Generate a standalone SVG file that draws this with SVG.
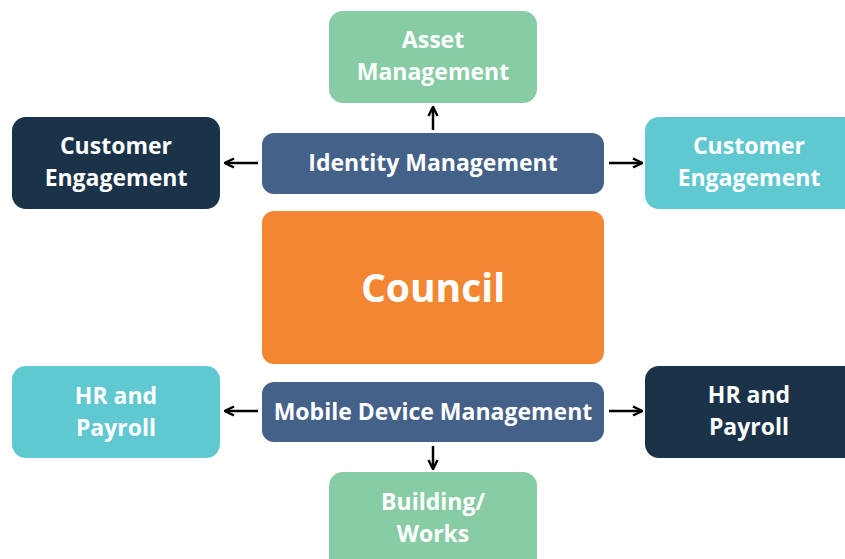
<svg xmlns="http://www.w3.org/2000/svg" width="845" height="559" viewBox="0 0 845 559">
<defs>
<marker id="ah" viewBox="0 0 10 10" refX="9" refY="5" markerWidth="4.5" markerHeight="4.5" orient="auto" markerUnits="strokeWidth"><path d="M1,1 L9,5 L1,9" fill="none" stroke="#000" stroke-width="2.2"/></marker>
</defs>
<style>
text{font-family:"Open Sans","Noto Sans",sans-serif;font-weight:bold;fill:#fff;text-anchor:middle}
.l{font-size:23px}
.c{font-size:39px}
.cn{stroke:#000;stroke-width:2.5;fill:none;marker-end:url(#ah)}
</style>
<rect width="845" height="559" fill="#fff"/>
<g id="asset"><rect x="329" y="11" width="208" height="92" rx="14" fill="#88CCA5"/><text class="l" x="433" y="48">Asset</text><text class="l" x="433" y="80">Management</text></g>
<g id="ce-left"><rect x="12" y="117" width="208" height="92" rx="14" fill="#1B3349"/><text class="l" x="116" y="154">Customer</text><text class="l" x="116" y="186">Engagement</text></g>
<g id="ce-right"><rect x="645" y="117" width="214" height="92" rx="14" fill="#5FC8D0"/><text class="l" x="749" y="154">Customer</text><text class="l" x="749" y="186">Engagement</text></g>
<g id="identity"><rect x="262" y="133" width="342" height="61" rx="12" fill="#44618A"/><text class="l" x="433" y="171">Identity Management</text></g>
<g id="council"><rect x="262" y="211" width="342" height="153" rx="12" fill="#F28632"/><text class="c" x="433" y="302">Council</text></g>
<g id="mdm"><rect x="262" y="382" width="342" height="60" rx="12" fill="#44618A"/><text class="l" x="433" y="420">Mobile Device Management</text></g>
<g id="hr-left"><rect x="12" y="366" width="208" height="92" rx="14" fill="#5FC8D0"/><text class="l" x="116" y="404">HR and</text><text class="l" x="116" y="436">Payroll</text></g>
<g id="hr-right"><rect x="645" y="366" width="214" height="92" rx="14" fill="#1B3349"/><text class="l" x="749" y="403">HR and</text><text class="l" x="749" y="435">Payroll</text></g>
<g id="building"><rect x="329" y="472" width="208" height="100" rx="14" fill="#88CCA5"/><text class="l" x="433" y="510">Building/</text><text class="l" x="433" y="542">Works</text></g>
<g id="connectors">
<line class="cn" x1="433" y1="130" x2="433" y2="107"/>
<line class="cn" x1="258" y1="163" x2="225" y2="163"/>
<line class="cn" x1="609" y1="163" x2="642" y2="163"/>
<line class="cn" x1="258" y1="411" x2="225" y2="411"/>
<line class="cn" x1="609" y1="411" x2="642" y2="411"/>
<line class="cn" x1="433" y1="446" x2="433" y2="469"/>
</g>
</svg>
